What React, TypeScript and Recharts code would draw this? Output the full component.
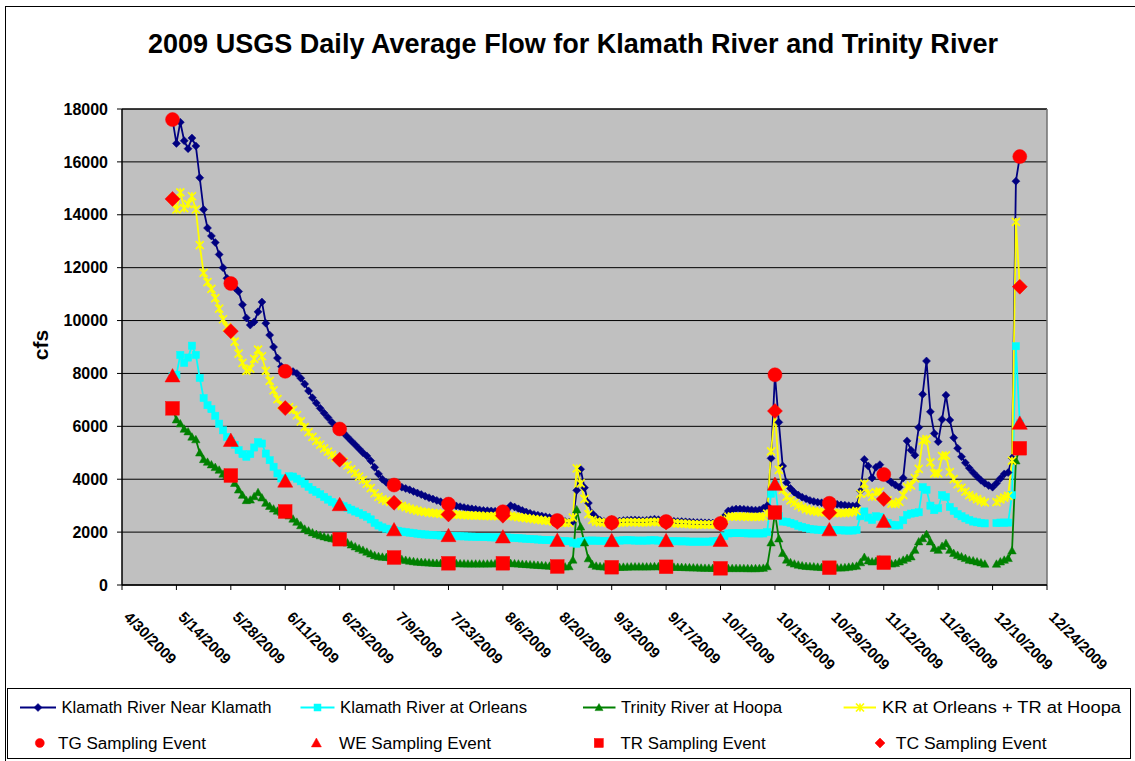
import React from 'react';
import { LineChart, Line, XAxis, YAxis, CartesianGrid, ReferenceLine, Legend } from 'recharts';

const FONT = '"Liberation Sans", Arial, Helvetica, sans-serif';

// Day numbers counted from 4/30/2009 (day 0). Daily data run from 5/13/2009 (day 13) to 12/17/2009 (day 231).
const FIRST_DAY = 13;

const xTickDays = [0, 14, 28, 42, 56, 70, 84, 98, 112, 126, 140, 154, 168, 182, 196, 210, 224, 238];
const xTickLabels = [
  '4/30/2009', '5/14/2009', '5/28/2009', '6/11/2009', '6/25/2009', '7/9/2009', '7/23/2009', '8/6/2009',
  '8/20/2009', '9/3/2009', '9/17/2009', '10/1/2009', '10/15/2009', '10/29/2009', '11/12/2009', '11/26/2009',
  '12/10/2009', '12/24/2009',
];
const yTicks = [0, 2000, 4000, 6000, 8000, 10000, 12000, 14000, 16000, 18000];

const seriesNames = [
  'Klamath River Near Klamath',
  'Klamath River at Orleans',
  'Trinity River at Hoopa',
  'KR at Orleans + TR at Hoopa',
  'TG Sampling Event',
  'WE Sampling Event',
  'TR Sampling Event',
  'TC Sampling Event',
];

const klamathNearKlamath = [
  17600, 16700, 17500, 16800, 16500, 16900, 16600, 15400, 14200, 13500, 13200, 12950, 12500, 12000, 11600, 11400,
  11250, 11100, 10600, 10100, 9830, 9950, 10330, 10700, 9900, 9450, 9000, 8580, 8260, 8080,
  8100, 8070, 8000, 7820, 7600, 7340, 7080, 6880, 6680, 6500, 6330, 6150, 6000, 5900,
  5750, 5600, 5450, 5300, 5150, 5000, 4880, 4700, 4450, 4200, 4000, 3880, 3820, 3780,
  3750, 3700, 3650, 3600, 3540, 3480, 3420, 3360, 3300, 3250, 3200, 3150, 3100, 3060,
  3020, 2990, 2960, 2930, 2900, 2880, 2860, 2840, 2820, 2810, 2800, 2790, 2780, 2770,
  2850, 3000, 2950, 2880, 2820, 2760, 2710, 2670, 2640, 2610, 2580, 2550, 2500, 2440,
  2420, 2400, 2380, 2400, 3580, 4380, 3680, 3100, 2700, 2550, 2450, 2400, 2380, 2360,
  2400, 2420, 2440, 2450, 2460, 2460, 2450, 2440, 2450, 2470, 2490, 2470, 2440, 2400,
  2420, 2410, 2400, 2400, 2390, 2380, 2370, 2360, 2360, 2350, 2350, 2340, 2340, 2330,
  2600, 2800, 2850, 2870, 2870, 2860, 2850, 2840, 2830, 2840, 2900, 3000, 4790, 7950,
  6150, 4500, 3870, 3650, 3500, 3400, 3320, 3260, 3200, 3160, 3130, 3110, 3100, 3090,
  3070, 3050, 3030, 3020, 3000, 2990, 3000, 3550, 4750, 4500, 4050, 4450, 4550, 4180,
  4000, 3880, 3780, 3700, 4050, 5450, 5100, 4910, 5960, 7210, 8470, 6550, 5730, 5420,
  6260, 7180, 6240, 5570, 5170, 4850, 4620, 4420, 4250, 4100, 3960, 3850, 3760, 3700, 3850, 4030, 4200, 4250, 4800, 15270, 16200,
];

const klamathOrleans = [
  7900, 7950, 8700, 8400, 8600, 9050, 8700, 7830, 7070, 6800, 6650, 6400, 6100, 5850, 5600, 5460,
  5300, 5100, 4950, 4850, 4950, 5200, 5400, 5350, 4970, 4720, 4470, 4220, 4030, 3920,
  4110, 4100, 4020, 3920, 3830, 3710, 3600, 3520, 3430, 3330, 3230, 3140, 3080, 3030,
  2980, 2920, 2850, 2780, 2720, 2650, 2580, 2480, 2350, 2250, 2180, 2130, 2100, 2080,
  2050, 2020, 2000, 1980, 1960, 1940, 1920, 1910, 1900, 1890, 1880, 1870, 1860, 1860,
  1850, 1850, 1840, 1840, 1830, 1830, 1820, 1820, 1810, 1810, 1800, 1800, 1800, 1810,
  1800, 1790, 1780, 1770, 1760, 1750, 1740, 1730, 1720, 1710, 1700, 1700, 1690, 1680,
  1670, 1660, 1650, 1600, 1560, 1640, 1660, 1680, 1680, 1680, 1670, 1670, 1670, 1670,
  1670, 1680, 1690, 1690, 1690, 1680, 1680, 1680, 1680, 1690, 1690, 1680, 1670, 1670,
  1660, 1660, 1650, 1650, 1650, 1640, 1640, 1640, 1640, 1640, 1640, 1650, 1660, 1680,
  1850, 1950, 1960, 1960, 1960, 1960, 1950, 1950, 1950, 1950, 1950, 2000, 3450, 3800,
  2600, 2400, 2390, 2350, 2300, 2240, 2200, 2160, 2120, 2100, 2090, 2080, 2080, 2080,
  2080, 2070, 2070, 2060, 2060, 2060, 2080, 2600, 2780, 2550, 2460, 2600, 2580, 2400,
  2350, 2280, 2250, 2260, 2450, 2650, 2700, 2720, 2750, 3700, 3600, 3000, 2830, 2900,
  3400, 3330, 2950, 2800, 2680, 2600, 2520, 2460, 2400, 2370, 2340, 2330, null, null, 2340, 2360, 2360, 2360, 3400, 9030, 6110,
];

const trinityHoopa = [
  6680, 6250, 6100, 5900, 5800, 5600, 5500, 5000, 4750, 4650, 4550, 4450, 4350, 4200, 4150, 4140,
  3850, 3600, 3400, 3200, 3220, 3350, 3500, 3300, 3100, 2980, 2880, 2800, 2760, 2780,
  2620, 2500, 2380, 2250, 2120, 2050, 1980, 1920, 1870, 1830, 1790, 1760, 1740, 1730,
  1680, 1600, 1520, 1450, 1380, 1320, 1250, 1180, 1120, 1080, 1060, 1050, 1040, 1040,
  1000, 970, 940, 910, 890, 870, 860, 850, 840, 830, 825, 820, 820, 820,
  820, 815, 810, 805, 800, 800, 800, 800, 800, 800, 805, 810, 815, 820,
  820, 820, 810, 800, 790, 780, 770, 760, 750, 740, 730, 720, 710, 700,
  690, 690, 700, 950, 2850, 2200, 1600, 1000, 780, 720, 700, 690, 680, 670,
  670, 675, 680, 685, 690, 690, 690, 690, 690, 695, 700, 700, 695, 690,
  685, 680, 675, 670, 665, 660, 655, 650, 645, 640, 640, 635, 635, 630,
  630, 630, 630, 630, 630, 630, 625, 625, 625, 630, 640, 700, 1600, 2740,
  1750, 1200, 950, 850, 800, 760, 730, 710, 700, 690, 680, 670, 665, 655,
  650, 650, 650, 660, 680, 700, 720, 850, 1050, 920, 880, 900, 950, 845,
  845, 800, 820, 880, 945, 1010, 1070, 1320, 1640, 1760, 1920, 1640, 1390, 1320,
  1470, 1575, 1320, 1200, 1130, 1070, 1010, 945, 920, 880, 845, 795, null, null, 795, 880, 945, 1010, 1300, 4700, 5170,
];

const orleansPlusHoopa = [
  14600, 14200, 14850, 14250, 14400, 14700, 14200, 12850, 11800, 11450, 11200, 10850, 10450, 10050, 9750, 9600,
  9200, 8750, 8400, 8100, 8180, 8550, 8900, 8650, 8100, 7720, 7360, 7030, 6800, 6690,
  6730, 6620, 6420, 6190, 5970, 5780, 5600, 5450, 5310, 5170, 5040, 4920, 4820, 4740,
  4660, 4520, 4370, 4230, 4100, 3970, 3830, 3660, 3470, 3330, 3240, 3180, 3140, 3110,
  3050, 2990, 2940, 2890, 2850, 2810, 2780, 2760, 2740, 2720, 2705, 2690, 2680, 2670,
  2670, 2665, 2650, 2645, 2630, 2630, 2620, 2620, 2610, 2610, 2605, 2610, 2615, 2620,
  2620, 2610, 2590, 2570, 2550, 2530, 2510, 2490, 2470, 2450, 2430, 2420, 2400, 2380,
  2360, 2350, 2350, 2550, 4410, 3840, 3260, 2680, 2460, 2400, 2370, 2360, 2350, 2340,
  2340, 2355, 2370, 2375, 2380, 2370, 2370, 2370, 2370, 2385, 2390, 2380, 2365, 2360,
  2345, 2340, 2325, 2320, 2315, 2300, 2295, 2290, 2285, 2280, 2280, 2285, 2295, 2310,
  2480, 2580, 2590, 2590, 2590, 2590, 2575, 2575, 2575, 2580, 2590, 2700, 5050, 6580,
  4350, 3600, 3340, 3200, 3100, 3000, 2930, 2870, 2820, 2790, 2770, 2750, 2745, 2735,
  2730, 2720, 2720, 2720, 2740, 2760, 2800, 3450, 3830, 3470, 3340, 3500, 3530, 3250,
  3200, 3080, 3070, 3140, 3400, 3700, 3770, 4040, 4390, 5460, 5520, 4640, 4220, 4220,
  4870, 4900, 4270, 4000, 3810, 3670, 3530, 3400, 3320, 3250, 3185, 3125, null, null, 3135, 3240, 3305, 3370, 4700, 13730, 11280,
];

// Sampling events
const sampleDays = [13, 28, 42, 56, 70, 84, 98, 112, 126, 140, 154, 168, 182, 196, 231];
const tgEvent = [17600, 11400, 8080, 5900, 3780, 3060, 2770, 2440, 2360, 2400, 2330, 7950, 3090, 4180, 16200];
const weEvent = [7900, 5460, 3920, 3030, 2080, 1860, 1810, 1680, 1670, 1670, 1680, 3800, 2080, 2400, 6110];
const trEvent = [6680, 4140, 2780, 1730, 1040, 820, 820, 700, 670, 690, 630, 2740, 655, 845, 5170];
const tcEvent = [14600, 9600, 6690, 4740, 3110, 2670, 2620, 2380, 2340, 2360, 2310, 6580, 2735, 3250, 11280];

const data = klamathNearKlamath.map((v, i) => {
  const d = FIRST_DAY + i;
  const s = sampleDays.indexOf(d);
  return {
    d,
    kk: v,
    ko: klamathOrleans[i],
    th: trinityHoopa[i],
    sum: orleansPlusHoopa[i],
    tg: s >= 0 ? tgEvent[s] : null,
    we: s >= 0 ? weEvent[s] : null,
    tr: s >= 0 ? trEvent[s] : null,
    tc: s >= 0 ? tcEvent[s] : null,
  };
});

const NAVY = '#000080';
const CYAN = '#00FFFF';
const GREEN = '#008000';
const YELLOW = '#FFFF00';
const RED = '#FF0000';

type Shape = 'diamond' | 'square' | 'triangle' | 'star' | 'circle';

const drawShape = (shape: Shape, cx: number, cy: number, s: number, color: string, key?: any) => {
  switch (shape) {
    case 'diamond':
      return <polygon key={key} points={`${cx},${cy - s} ${cx + s},${cy} ${cx},${cy + s} ${cx - s},${cy}`} fill={color} stroke={color} strokeWidth={0.5} />;
    case 'square':
      return <rect key={key} x={cx - s} y={cy - s} width={2 * s} height={2 * s} fill={color} stroke={color} strokeWidth={0.5} />;
    case 'triangle':
      return <polygon key={key} points={`${cx},${cy - s} ${cx + s},${cy + s * 0.78} ${cx - s},${cy + s * 0.78}`} fill={color} stroke={color} strokeWidth={0.5} />;
    case 'star':
      return (
        <path
          key={key}
          d={`M${cx - s},${cy - s}L${cx + s},${cy + s}M${cx - s},${cy + s}L${cx + s},${cy - s}M${cx},${cy - s}L${cx},${cy + s}`}
          stroke={color}
          strokeWidth={1.7}
          fill="none"
        />
      );
    default:
      return <circle key={key} cx={cx} cy={cy} r={s} fill={color} stroke={color} strokeWidth={0.5} />;
  }
};

const makeDot = (shape: Shape, color: string, s: number) => (props: any) => {
  const { cx, cy, value, index } = props;
  if (cx == null || cy == null || value == null || Number.isNaN(cx) || Number.isNaN(cy)) {
    return <g key={`e-${index}`} />;
  }
  return drawShape(shape, cx, cy, s, color, `d-${index}`);
};

const XTick = (props: any) => {
  const { x, y, payload } = props;
  const i = xTickDays.indexOf(payload.value);
  const label = i >= 0 ? xTickLabels[i] : '';
  const ax = x + 1;
  const ay = y + 28;
  return (
    <text
      x={ax}
      y={ay}
      transform={`rotate(45 ${ax} ${ay})`}
      textAnchor="start"
      fontSize={15}
      fontWeight="bold"
      fontFamily={FONT}
      fill="#000"
    >
      {label}
    </text>
  );
};

const legendRows = [
  [
    { name: seriesNames[0], shape: 'diamond' as Shape, color: NAVY, line: true, mx: 31, lx: [13, 49], tx: 54.5, tl: 210, s: 4 },
    { name: seriesNames[1], shape: 'square' as Shape, color: CYAN, line: true, mx: 310.5, lx: [293.5, 327.5], tx: 333, tl: 187, s: 3.5 },
    { name: seriesNames[2], shape: 'triangle' as Shape, color: GREEN, line: true, mx: 592, lx: [576, 608.5], tx: 614, tl: 161, s: 4 },
    { name: seriesNames[3], shape: 'star' as Shape, color: YELLOW, line: true, mx: 853, lx: [836.6, 869], tx: 875, tl: 239, s: 4 },
  ],
  [
    { name: seriesNames[4], shape: 'circle' as Shape, color: RED, line: false, mx: 32.8, lx: [0, 0], tx: 51, tl: 148, s: 4.5 },
    { name: seriesNames[5], shape: 'triangle' as Shape, color: RED, line: false, mx: 309.4, lx: [0, 0], tx: 332, tl: 152, s: 5 },
    { name: seriesNames[6], shape: 'square' as Shape, color: RED, line: false, mx: 591.8, lx: [0, 0], tx: 613.6, tl: 145, s: 4.5 },
    { name: seriesNames[7], shape: 'diamond' as Shape, color: RED, line: false, mx: 873, lx: [0, 0], tx: 888.7, tl: 151, s: 5 },
  ],
];
const legendRowY = [19.5, 55];

const LegendBox = () => (
  <svg width={1124} height={71} style={{ display: 'block' }}>
    <rect x={0.5} y={0.5} width={1123} height={70} fill="#fff" stroke="#000" strokeWidth={1} />
    {legendRows.map((row, r) =>
      row.map((it, k) => {
        const y = legendRowY[r];
        return (
          <g key={`${r}-${k}`}>
            {it.line && <line x1={it.lx[0]} x2={it.lx[1]} y1={y} y2={y} stroke={it.color} strokeWidth={2} />}
            {drawShape(it.shape, it.mx, y, it.s, it.color)}
            <text
              x={it.tx}
              y={y}
              dy="0.36em"
              fontSize={16}
              fontFamily={FONT}
              fill="#000"
              textLength={it.tl}
              lengthAdjust="spacingAndGlyphs"
            >
              {it.name}
            </text>
          </g>
        );
      })
    )}
  </svg>
);

export default function App() {
  return (
    <div style={{ position: 'relative', width: 1135, height: 761, overflow: 'hidden', background: '#fff' }}>
      <style>{'body{margin:0;background:#fff;}'}</style>
      <LineChart
        width={1135}
        height={761}
        data={data}
        margin={{ top: 109, right: 88, bottom: 0, left: 0 }}
        style={{ fontFamily: FONT }}
      >
        <CartesianGrid vertical={false} stroke="#000" strokeWidth={1} fill="#C0C0C0" fillOpacity={1} />
        <XAxis
          type="number"
          dataKey="d"
          domain={[0, 238]}
          ticks={xTickDays}
          interval={0}
          tick={<XTick />}
          tickSize={5}
          tickMargin={0}
          tickLine={{ stroke: '#000' }}
          axisLine={{ stroke: '#000', strokeWidth: 1.5 }}
          height={176}
          allowDataOverflow
        />
        <YAxis
          type="number"
          domain={[0, 18000]}
          ticks={yTicks}
          interval={0}
          width={122}
          tickSize={5}
          tickMargin={9}
          tickLine={{ stroke: '#000' }}
          axisLine={{ stroke: '#000', strokeWidth: 1.5 }}
          tick={{ fontSize: 16, fontWeight: 'bold', fill: '#000', fontFamily: FONT }}
        />
        <ReferenceLine y={18000} stroke="#000" strokeWidth={1} />
        <ReferenceLine x={238} stroke="#707070" strokeWidth={1.5} />
        <Legend
          layout="horizontal"
          verticalAlign="middle"
          align="center"
          wrapperStyle={{ position: 'absolute', left: 7, top: 688, width: 1124, height: 71 }}
          content={() => <LegendBox />}
        />
        <Line type="linear" dataKey="kk" name={seriesNames[0]} stroke={NAVY} strokeWidth={1.8} dot={makeDot('diamond', NAVY, 4)} activeDot={false} isAnimationActive={false} connectNulls={false} />
        <Line type="linear" dataKey="ko" name={seriesNames[1]} stroke={CYAN} strokeWidth={1.8} dot={makeDot('square', CYAN, 3.6)} activeDot={false} isAnimationActive={false} connectNulls={false} />
        <Line type="linear" dataKey="th" name={seriesNames[2]} stroke={GREEN} strokeWidth={1.8} dot={makeDot('triangle', GREEN, 4.2)} activeDot={false} isAnimationActive={false} connectNulls={false} />
        <Line type="linear" dataKey="sum" name={seriesNames[3]} stroke={YELLOW} strokeWidth={1.8} dot={makeDot('star', YELLOW, 4)} activeDot={false} isAnimationActive={false} connectNulls={false} />
        <Line type="linear" dataKey="tg" name={seriesNames[4]} stroke="none" dot={makeDot('circle', RED, 7)} activeDot={false} isAnimationActive={false} connectNulls={false} />
        <Line type="linear" dataKey="we" name={seriesNames[5]} stroke="none" dot={makeDot('triangle', RED, 7.5)} activeDot={false} isAnimationActive={false} connectNulls={false} />
        <Line type="linear" dataKey="tr" name={seriesNames[6]} stroke="none" dot={makeDot('square', RED, 6.8)} activeDot={false} isAnimationActive={false} connectNulls={false} />
        <Line type="linear" dataKey="tc" name={seriesNames[7]} stroke="none" dot={makeDot('diamond', RED, 7.5)} activeDot={false} isAnimationActive={false} connectNulls={false} />
      </LineChart>
      <svg
        width={1135}
        height={761}
        style={{ position: 'absolute', left: 0, top: 0, pointerEvents: 'none' }}
      >
        <rect x={5.5} y={6.5} width={1200} height={800} fill="none" stroke="#000" strokeWidth={1} />
        <text
          x={573}
          y={53}
          textAnchor="middle"
          fontSize={27}
          fontWeight="bold"
          fontFamily={FONT}
          fill="#000"
          textLength={850}
          lengthAdjust="spacingAndGlyphs"
        >
          2009 USGS Daily Average Flow for Klamath River and Trinity River
        </text>
        <text
          x={48}
          y={345}
          transform="rotate(-90 48 345)"
          textAnchor="middle"
          fontSize={21}
          fontWeight="bold"
          fontFamily={FONT}
          fill="#000"
        >
          cfs
        </text>
      </svg>
    </div>
  );
}
